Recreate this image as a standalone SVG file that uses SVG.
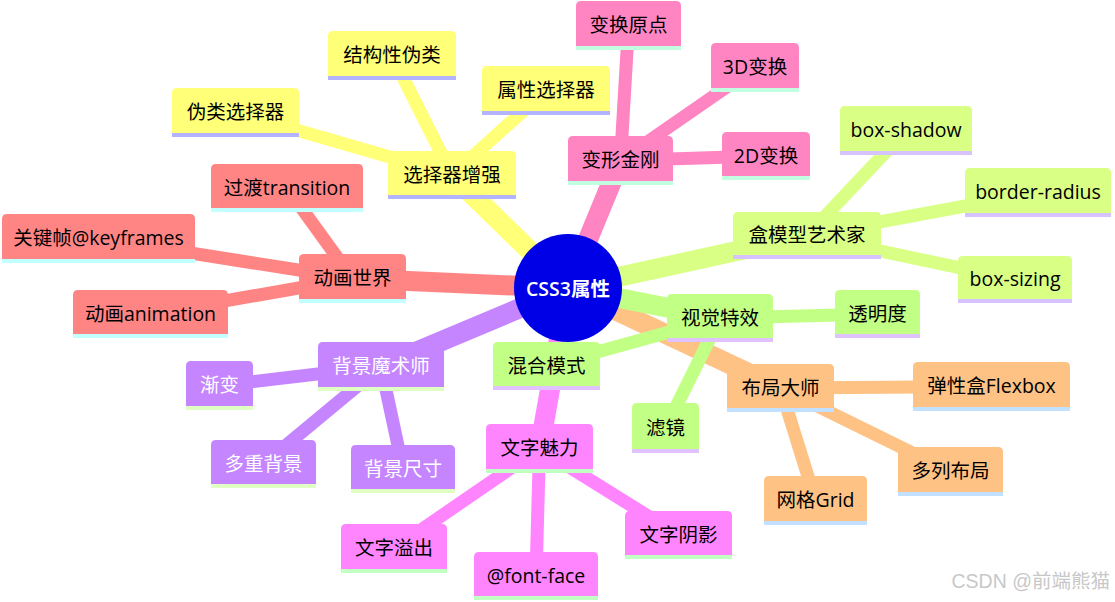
<svg xmlns="http://www.w3.org/2000/svg" width="1115" height="602" viewBox="0 0 1115 602">
<style>
text{font-family:"Open Sans","Noto Sans CJK SC",sans-serif;font-size:19.5px;text-anchor:middle;dominant-baseline:central;fill:#000}
.wt text,text.wt{fill:#fff}
.e0{stroke-width:20;fill:none;stroke-linecap:butt}
.e1{stroke-width:13;fill:none;stroke-linecap:butt}
.y{fill:#ffff78}.y-b{fill:#b3b3ff}.ye{stroke:#ffff78}
.p{fill:#ff85c2}.p-b{fill:#c2ffe0}.pe{stroke:#ff85c2}
.g{fill:#d9ff85}.g-b{fill:#d5c2ff}.ge{stroke:#d9ff85}
.l{fill:#c2ff85}.l-b{fill:#e0c2ff}.le{stroke:#c2ff85}
.o{fill:#ffc285}.o-b{fill:#c2e0ff}.oe{stroke:#ffc285}
.m{fill:#ff85ff}.m-b{fill:#c2ffc2}.me{stroke:#ff85ff}
.v{fill:#c485ff}.v-b{fill:#e0ffc2}.ve{stroke:#c485ff}
.r{fill:#ff8585}.r-b{fill:#c2ffff}.re{stroke:#ff8585}
</style>
<rect width="1115" height="602" fill="#fff"/>
<g id="connectors">
<line class="e0 ye" x1="568" y1="288" x2="452" y2="175"/>
<line class="e1 ye" x1="452" y1="175" x2="235.5" y2="112.5"/>
<line class="e1 ye" x1="452" y1="175" x2="392" y2="55.5"/>
<line class="e1 ye" x1="452" y1="175" x2="546" y2="90.5"/>
<line class="e0 pe" x1="568" y1="288" x2="620.5" y2="160.5"/>
<line class="e1 pe" x1="620.5" y1="160.5" x2="628.5" y2="25.5"/>
<line class="e1 pe" x1="620.5" y1="160.5" x2="755" y2="67.5"/>
<line class="e1 pe" x1="620.5" y1="160.5" x2="766" y2="156"/>
<line class="e0 ge" x1="568" y1="288" x2="807" y2="235.5"/>
<line class="e1 ge" x1="807" y1="235.5" x2="906" y2="130.5"/>
<line class="e1 ge" x1="807" y1="235.5" x2="1038" y2="192.5"/>
<line class="e1 ge" x1="807" y1="235.5" x2="1015" y2="279.5"/>
<line class="e0 oe" x1="568" y1="288" x2="780.5" y2="388"/>
<line class="e1 oe" x1="780.5" y1="388" x2="991.5" y2="386.5"/>
<line class="e1 oe" x1="780.5" y1="388" x2="950.5" y2="471.5"/>
<line class="e1 oe" x1="780.5" y1="388" x2="815.5" y2="500.5"/>
<line class="e0 le" x1="568" y1="288" x2="720" y2="318"/>
<line class="e1 le" x1="720" y1="318" x2="877.5" y2="314"/>
<line class="e1 le" x1="720" y1="318" x2="546.5" y2="366"/>
<line class="e1 le" x1="720" y1="318" x2="665.5" y2="428"/>
<line class="e0 me" x1="568" y1="288" x2="539.5" y2="448.5"/>
<line class="e1 me" x1="539.5" y1="448.5" x2="394" y2="548.5"/>
<line class="e1 me" x1="539.5" y1="448.5" x2="536" y2="576"/>
<line class="e1 me" x1="539.5" y1="448.5" x2="678.5" y2="535"/>
<line class="e0 ve" x1="568" y1="288" x2="381" y2="366.5"/>
<line class="e1 ve" x1="381" y1="366.5" x2="219.5" y2="385.5"/>
<line class="e1 ve" x1="381" y1="366.5" x2="263.5" y2="464"/>
<line class="e1 ve" x1="381" y1="366.5" x2="403" y2="469"/>
<line class="e0 re" x1="568" y1="288" x2="352.5" y2="278.5"/>
<line class="e1 re" x1="352.5" y1="278.5" x2="98.5" y2="238.5"/>
<line class="e1 re" x1="352.5" y1="278.5" x2="150.5" y2="314"/>
<line class="e1 re" x1="352.5" y1="278.5" x2="287" y2="188"/>
</g>
<g id="n-sel"><path class="y" d="M388 199V156Q388 151 393 151H511Q516 151 516 156V199Z"/><rect class="y-b" x="388" y="195" width="128" height="4"/><text x="452" y="174">选择器增强</text></g>
<g id="n-pseudo"><path class="y" d="M172 137V93Q172 88 177 88H294Q299 88 299 93V137Z"/><rect class="y-b" x="172" y="133" width="127" height="4"/><text x="235.5" y="111.5">伪类选择器</text></g>
<g id="n-struct"><path class="y" d="M328 80V36Q328 31 333 31H451Q456 31 456 36V80Z"/><rect class="y-b" x="328" y="76" width="128" height="4"/><text x="392" y="54.5">结构性伪类</text></g>
<g id="n-attr"><path class="y" d="M482 115V71Q482 66 487 66H605Q610 66 610 71V115Z"/><rect class="y-b" x="482" y="111" width="128" height="4"/><text x="546" y="89.5">属性选择器</text></g>
<g id="n-transform"><path class="p" d="M568 185V141Q568 136 573 136H668Q673 136 673 141V185Z"/><rect class="p-b" x="568" y="181" width="105" height="4"/><text x="620.5" y="159.5">变形金刚</text></g>
<g id="n-origin"><path class="p" d="M576 50V6Q576 1 581 1H676Q681 1 681 6V50Z"/><rect class="p-b" x="576" y="46" width="105" height="4"/><text x="628.5" y="24.5">变换原点</text></g>
<g id="n-3d"><path class="p" d="M711 92V48Q711 43 716 43H794Q799 43 799 48V92Z"/><rect class="p-b" x="711" y="88" width="88" height="4"/><text x="755" y="66.5">3D变换</text></g>
<g id="n-2d"><path class="p" d="M722 180V137Q722 132 727 132H805Q810 132 810 137V180Z"/><rect class="p-b" x="722" y="176" width="88" height="4"/><text x="766" y="155">2D变换</text></g>
<g id="n-box"><path class="g" d="M733 259V217Q733 212 738 212H876Q881 212 881 217V259Z"/><rect class="g-b" x="733" y="255" width="148" height="4"/><text x="807" y="234.5">盒模型艺术家</text></g>
<g id="n-shadow"><path class="g" d="M840 155V111Q840 106 845 106H967Q972 106 972 111V155Z"/><rect class="g-b" x="840" y="151" width="132" height="4"/><text x="906" y="129.5">box-shadow</text></g>
<g id="n-radius"><path class="g" d="M965 217V173Q965 168 970 168H1106Q1111 168 1111 173V217Z"/><rect class="g-b" x="965" y="213" width="146" height="4"/><text x="1038" y="191.5">border-radius</text></g>
<g id="n-sizing"><path class="g" d="M958 303V261Q958 256 963 256H1067Q1072 256 1072 261V303Z"/><rect class="g-b" x="958" y="299" width="114" height="4"/><text x="1015" y="278.5">box-sizing</text></g>
<g id="n-visual"><path class="l" d="M667 342V299Q667 294 672 294H768Q773 294 773 299V342Z"/><rect class="l-b" x="667" y="338" width="106" height="4"/><text x="720" y="317">视觉特效</text></g>
<g id="n-opacity"><path class="l" d="M835 338V295Q835 290 840 290H915Q920 290 920 295V338Z"/><rect class="l-b" x="835" y="334" width="85" height="4"/><text x="877.5" y="313">透明度</text></g>
<g id="n-blend"><path class="l" d="M493 390V347Q493 342 498 342H595Q600 342 600 347V390Z"/><rect class="l-b" x="493" y="386" width="107" height="4"/><text x="546.5" y="365">混合模式</text></g>
<g id="n-filter"><path class="l" d="M632 453V408Q632 403 637 403H694Q699 403 699 408V453Z"/><rect class="l-b" x="632" y="449" width="67" height="4"/><text x="665.5" y="427">滤镜</text></g>
<g id="n-layout"><path class="o" d="M727 412V369Q727 364 732 364H829Q834 364 834 369V412Z"/><rect class="o-b" x="727" y="408" width="107" height="4"/><text x="780.5" y="387">布局大师</text></g>
<g id="n-flex"><path class="o" d="M913 411V367Q913 362 918 362H1065Q1070 362 1070 367V411Z"/><rect class="o-b" x="913" y="407" width="157" height="4"/><text x="991.5" y="385.5">弹性盒Flexbox</text></g>
<g id="n-multicol"><path class="o" d="M898 496V452Q898 447 903 447H998Q1003 447 1003 452V496Z"/><rect class="o-b" x="898" y="492" width="105" height="4"/><text x="950.5" y="470.5">多列布局</text></g>
<g id="n-grid"><path class="o" d="M764 525V481Q764 476 769 476H862Q867 476 867 481V525Z"/><rect class="o-b" x="764" y="521" width="103" height="4"/><text x="815.5" y="499.5">网格Grid</text></g>
<g id="n-text"><path class="m" d="M486 473V429Q486 424 491 424H588Q593 424 593 429V473Z"/><rect class="m-b" x="486" y="469" width="107" height="4"/><text x="539.5" y="447.5">文字魅力</text></g>
<g id="n-overflow"><path class="m" d="M341 573V529Q341 524 346 524H442Q447 524 447 529V573Z"/><rect class="m-b" x="341" y="569" width="106" height="4"/><text x="394" y="547.5">文字溢出</text></g>
<g id="n-fontface"><path class="m" d="M474 600V557Q474 552 479 552H593Q598 552 598 557V600Z"/><rect class="m-b" x="474" y="596" width="124" height="4"/><text x="536" y="575">@font-face</text></g>
<g id="n-shadowtext"><path class="m" d="M625 559V516Q625 511 630 511H727Q732 511 732 516V559Z"/><rect class="m-b" x="625" y="555" width="107" height="4"/><text x="678.5" y="534">文字阴影</text></g>
<g id="n-bg" class="wt"><path class="v" d="M318 391V347Q318 342 323 342H439Q444 342 444 347V391Z"/><rect class="v-b" x="318" y="387" width="126" height="4"/><text x="381" y="365.5">背景魔术师</text></g>
<g id="n-gradient" class="wt"><path class="v" d="M186 410V366Q186 361 191 361H248Q253 361 253 366V410Z"/><rect class="v-b" x="186" y="406" width="67" height="4"/><text x="219.5" y="384.5">渐变</text></g>
<g id="n-multibg" class="wt"><path class="v" d="M211 488V445Q211 440 216 440H311Q316 440 316 445V488Z"/><rect class="v-b" x="211" y="484" width="105" height="4"/><text x="263.5" y="463">多重背景</text></g>
<g id="n-bgsize" class="wt"><path class="v" d="M351 493V450Q351 445 356 445H450Q455 445 455 450V493Z"/><rect class="v-b" x="351" y="489" width="104" height="4"/><text x="403" y="468">背景尺寸</text></g>
<g id="n-anim"><path class="r" d="M299 303V259Q299 254 304 254H401Q406 254 406 259V303Z"/><rect class="r-b" x="299" y="299" width="107" height="4"/><text x="352.5" y="277.5">动画世界</text></g>
<g id="n-keyframes"><path class="r" d="M2 263V219Q2 214 7 214H190Q195 214 195 219V263Z"/><rect class="r-b" x="2" y="259" width="193" height="4"/><text x="98.5" y="237.5">关键帧@keyframes</text></g>
<g id="n-animation"><path class="r" d="M73 338V295Q73 290 78 290H223Q228 290 228 295V338Z"/><rect class="r-b" x="73" y="334" width="155" height="4"/><text x="150.5" y="313">动画animation</text></g>
<g id="n-transition"><path class="r" d="M211 212V169Q211 164 216 164H358Q363 164 363 169V212Z"/><rect class="r-b" x="211" y="208" width="152" height="4"/><text x="287" y="187">过渡transition</text></g>
<g id="n-root"><circle cx="568" cy="288" r="54" fill="#0000e6"/><text class="wt" x="568" y="288" style="font-weight:600">CSS3属性</text></g>
<text x="1110" y="581" style="text-anchor:end;font-family:'Liberation Sans','Noto Sans CJK SC',sans-serif;font-size:19.5px;fill:#c8c8c8">CSDN @前端熊猫</text>
</svg>
